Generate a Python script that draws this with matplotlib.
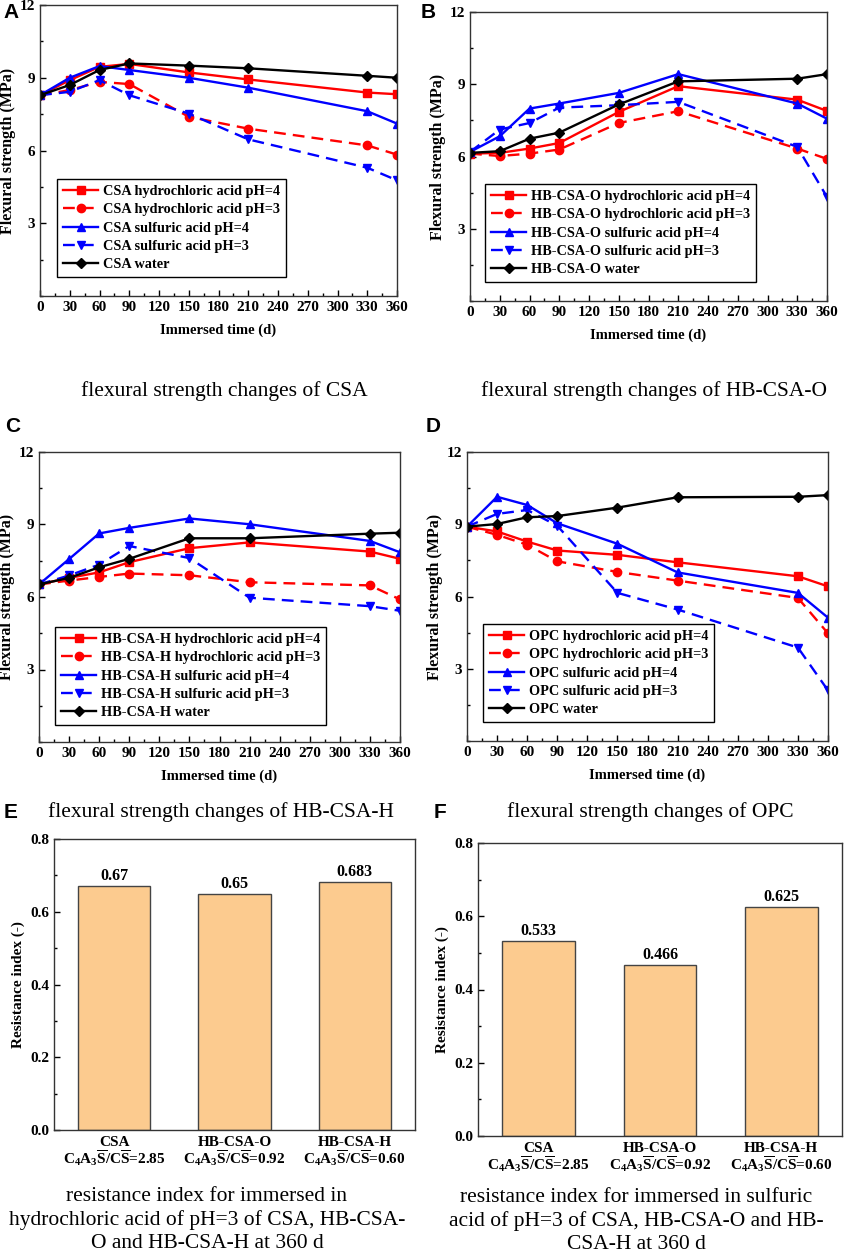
import matplotlib
matplotlib.use("Agg")
import matplotlib.pyplot as plt
from matplotlib.ticker import MultipleLocator

plt.rcParams['font.family'] = ['Liberation Serif', 'DejaVu Serif']
plt.rcParams['font.weight'] = 'bold'
plt.rcParams['mathtext.fontset'] = 'custom'
plt.rcParams['mathtext.rm'] = 'Liberation Serif:bold'
plt.rcParams['mathtext.it'] = 'Liberation Serif:bold'
plt.rcParams['mathtext.bf'] = 'Liberation Serif:bold'
plt.rcParams['mathtext.default'] = 'rm'

# Immersion times (d)
days = [0, 30, 60, 90, 150, 210, 330, 360]

# Flexural strength (MPa) per binder
csa_hcl4 = [8.28, 8.90, 9.45, 9.57, 9.22, 8.93, 8.39, 8.32]
csa_hcl3 = [8.28, 8.49, 8.83, 8.74, 7.39, 6.90, 6.21, 5.83]
csa_h2so4_4 = [8.28, 9.00, 9.48, 9.32, 9.00, 8.59, 7.62, 7.11]
csa_h2so4_3 = [8.28, 8.42, 8.90, 8.28, 7.52, 6.46, 5.29, 4.77]
csa_water = [8.28, 8.70, 9.32, 9.59, 9.50, 9.39, 9.08, 9.00]

hbo_hcl4 = [6.12, 6.15, 6.33, 6.56, 7.85, 8.92, 8.36, 7.89]
hbo_hcl3 = [6.12, 6.02, 6.12, 6.29, 7.39, 7.88, 6.33, 5.90]
hbo_h2so4_4 = [6.19, 6.84, 7.99, 8.20, 8.64, 9.42, 8.20, 7.57]
hbo_h2so4_3 = [6.19, 7.12, 7.39, 8.03, 8.13, 8.27, 6.40, 4.32]
hbo_water = [6.15, 6.22, 6.74, 6.99, 8.16, 9.12, 9.23, 9.42]

hbh_hcl4 = [6.52, 6.79, 7.02, 7.44, 8.02, 8.26, 7.88, 7.58]
hbh_hcl3 = [6.52, 6.68, 6.83, 6.97, 6.90, 6.61, 6.48, 5.90]
hbh_h2so4_4 = [6.52, 7.57, 8.63, 8.86, 9.25, 9.01, 8.32, 7.85]
hbh_h2so4_3 = [6.52, 6.89, 7.34, 8.11, 7.61, 5.97, 5.62, 5.43]
hbh_water = [6.52, 6.79, 7.23, 7.58, 8.43, 8.43, 8.62, 8.66]

opc_hcl4 = [8.90, 8.70, 8.28, 7.91, 7.73, 7.42, 6.84, 6.42]
opc_hcl3 = [8.90, 8.56, 8.15, 7.46, 7.02, 6.66, 5.94, 4.47]
opc_h2so4_4 = [8.90, 10.14, 9.80, 9.04, 8.19, 7.00, 6.15, 5.12]
opc_h2so4_3 = [8.90, 9.43, 9.59, 8.94, 6.15, 5.46, 3.88, 2.10]
opc_water = [8.90, 9.01, 9.29, 9.34, 9.69, 10.12, 10.14, 10.21]

# Resistance index at 360 d
binders = ['CSA', 'HB-CSA-O', 'HB-CSA-H']
ratios = ['2.85', '0.92', '0.60']
ri_hcl3 = [0.67, 0.65, 0.683]
ri_h2so4_3 = [0.533, 0.466, 0.625]

W, H = 844, 1252
fig = plt.figure(figsize=(W / 100, H / 100), dpi=100)


def px_axes(l, t, r, b):
    return fig.add_axes([l / W, 1 - b / H, (r - l) / W, (b - t) / H])


def style_ticks(ax):
    ax.tick_params(direction='in', which='both', labelsize=11)
    ax.tick_params(which='major', length=4, width=1)
    ax.tick_params(which='minor', length=2.5, width=1)
    for s in ax.spines.values():
        s.set_linewidth(1.0)
        s.set_color('#333333')


line_styles = [
    ('hydrochloric acid pH=4', 'red', '-', 's', 0),
    ('hydrochloric acid pH=3', 'red', '--', 'o', 1),
    ('sulfuric acid pH=4', 'blue', '-', '^', 2),
    ('sulfuric acid pH=3', 'blue', '--', 'v', 3),
    ('water', 'black', '-', 'D', 4),
]


def line_panel(box, name, series, letter, letter_xy, caption, cap_xy, leg_box):
    ax = px_axes(*box)
    for (lab, col, ls, mk, i) in line_styles:
        ms = 5 if mk == 'D' else 6
        ax.plot(days, series[i], color=col, linestyle=ls, marker=mk,
                markersize=ms, linewidth=1.7, dashes=(5, 3) if ls == '--' else (None, None),
                label=f'{name} {lab}')
    ax.set_xlim(0, 360)
    ax.set_ylim(0, 12)
    ax.set_xticks(range(0, 361, 30))
    ax.xaxis.set_minor_locator(MultipleLocator(15))
    ax.set_yticks([3, 6, 9, 12])
    ax.yaxis.set_minor_locator(MultipleLocator(1.5))
    style_ticks(ax)
    ax.set_xlabel('Immersed time (d)', fontsize=10.5, fontweight='bold', labelpad=7)
    ax.set_ylabel('Flexural strength (MPa)', fontsize=11.5, fontweight='bold', labelpad=3)
    l, t, r, b = leg_box
    bb = ((l - box[0]) / (box[2] - box[0]), 1 - (b - box[1]) / (box[3] - box[1]))
    leg = ax.legend(loc='lower left', bbox_to_anchor=bb, fontsize=10.3,
                    frameon=True, fancybox=False, edgecolor='black', framealpha=1,
                    borderaxespad=0, handlelength=2.5, handletextpad=0.3,
                    labelspacing=0.37, borderpad=0.4)
    leg.get_frame().set_linewidth(1.0)
    fig.text(letter_xy[0] / W, 1 - letter_xy[1] / H, letter, fontsize=15,
             fontweight='bold', family='Liberation Sans', va='center', ha='left')
    fig.text(cap_xy[0] / W, 1 - cap_xy[1] / H, caption, fontsize=15.5,
             fontweight='normal', ha='center', va='center')
    return ax


line_panel((40, 5, 397, 296), 'CSA',
           [csa_hcl4, csa_hcl3, csa_h2so4_4, csa_h2so4_3, csa_water],
           'A', (3, 13), 'flexural strength changes of CSA', (224, 391),
           (57, 178, 284, 277))
line_panel((470, 12, 827, 301), 'HB-CSA-O',
           [hbo_hcl4, hbo_hcl3, hbo_h2so4_4, hbo_h2so4_3, hbo_water],
           'B', (421, 12), 'flexural strength changes of HB-CSA-O', (654, 391),
           (485, 185, 758, 282))
line_panel((39, 452, 400, 742), 'HB-CSA-H',
           [hbh_hcl4, hbh_hcl3, hbh_h2so4_4, hbh_h2so4_3, hbh_water],
           'C', (5, 427), 'flexural strength changes of HB-CSA-H', (221, 812),
           (55, 627, 330, 725))
line_panel((467, 452, 828, 741), 'OPC',
           [opc_hcl4, opc_hcl3, opc_h2so4_4, opc_h2so4_3, opc_water],
           'D', (426, 427), 'flexural strength changes of OPC', (650, 812),
           (483, 625, 716, 722))


def bar_panel(box, values, letter, letter_xy, caption, cap_xy):
    ax = px_axes(*box)
    x = range(len(binders))
    bars = ax.bar(x, values, width=0.6, color='#FCCB8F', edgecolor='#444444', linewidth=1.0)
    for bar, v in zip(bars, values):
        ax.text(bar.get_x() + bar.get_width() / 2, v + 0.005, f'{v:g}',
                ha='center', va='bottom', fontsize=11.5, fontweight='bold')
    ax.set_xlim(-0.5, 2.5)
    ax.set_ylim(0, 0.8)
    ax.set_yticks([0, 0.2, 0.4, 0.6, 0.8])
    ax.set_yticklabels(['0.0', '0.2', '0.4', '0.6', '0.8'])
    ax.yaxis.set_minor_locator(MultipleLocator(0.1))
    ax.set_xticks(list(x))
    ax.set_xticklabels([f'{n}\nC$_4$A$_3\\overline{{\\mathrm{{S}}}}$/C$\\overline{{\\mathrm{{S}}}}$={r}'
                        for n, r in zip(binders, ratios)], linespacing=1.0)
    style_ticks(ax)
    ax.tick_params(axis='x', which='both', length=0, pad=4, labelsize=11)
    ax.set_ylabel('Resistance index (-)', fontsize=11, fontweight='bold', labelpad=4)
    fig.text(letter_xy[0] / W, 1 - letter_xy[1] / H, letter, fontsize=15,
             fontweight='bold', family='Liberation Sans', va='center', ha='left')
    fig.text(cap_xy[0] / W, 1 - cap_xy[1] / H, caption, fontsize=15.5,
             fontweight='normal', ha='center', va='center', linespacing=1.3)
    return ax


bar_panel((54, 839, 415, 1130), ri_hcl3, 'E', (4, 813),
          'resistance index for immersed in\nhydrochloric acid of pH=3 of CSA, HB-CSA-\nO and HB-CSA-H at 360 d',
          (207, 1220))
bar_panel((478, 843, 842, 1136), ri_h2so4_3, 'F', (434, 813),
          'resistance index for immersed in sulfuric\nacid of pH=3 of CSA, HB-CSA-O and HB-\nCSA-H at 360 d',
          (636, 1221))

fig.savefig('out.png', dpi=100)
